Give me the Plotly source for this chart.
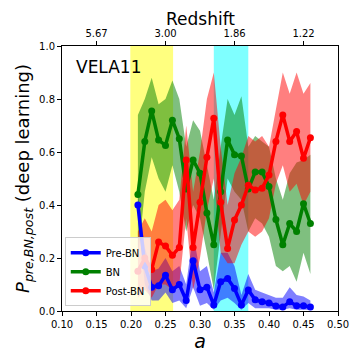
import plotly.graph_objects as go

# ---- data ----
a_vals = [0.21, 0.22, 0.23, 0.24, 0.25, 0.26, 0.27, 0.28, 0.29, 0.30, 0.31, 0.32, 0.33,
          0.34, 0.35, 0.36, 0.37, 0.38, 0.39, 0.40, 0.41, 0.42, 0.43, 0.44, 0.45, 0.46]

pre_bn = [0.40, 0.17, 0.09, 0.095, 0.135, 0.08, 0.10, 0.04, 0.19, 0.08, 0.09, 0.023, 0.11,
          0.123, 0.085, 0.023, 0.079, 0.042, 0.035, 0.030, 0.019, 0.015, 0.035, 0.02, 0.02, 0.015]
pre_bn_lo = [0.36, 0.10, 0.04, 0.04, 0.07, 0.03, 0.04, 0.01, 0.09, 0.02, 0.03, 0.005, 0.04,
             0.05, 0.03, 0.005, 0.03, 0.01, 0.01, 0.01, 0.005, 0.005, 0.01, 0.005, 0.005, 0.005]
pre_bn_hi = [0.44, 0.24, 0.15, 0.16, 0.20, 0.15, 0.17, 0.10, 0.29, 0.15, 0.17, 0.07, 0.22,
             0.22, 0.17, 0.06, 0.14, 0.08, 0.07, 0.06, 0.05, 0.05, 0.09, 0.06, 0.055, 0.04]

bn = [0.44, 0.64, 0.755, 0.645, 0.625, 0.72, 0.65, 0.46, 0.57, 0.52, 0.37, 0.25, 0.45,
      0.645, 0.59, 0.585, 0.46, 0.525, 0.525, 0.47, 0.345, 0.25, 0.33, 0.30, 0.405, 0.33]
bn_lo = [0.20, 0.45, 0.58, 0.50, 0.45, 0.55, 0.45, 0.30, 0.40, 0.35, 0.22, 0.08, 0.28,
         0.50, 0.45, 0.42, 0.30, 0.35, 0.33, 0.28, 0.17, 0.15, 0.17, 0.11, 0.22, 0.14]
bn_hi = [0.74, 0.80, 0.88, 0.78, 0.80, 0.87, 0.80, 0.62, 0.72, 0.68, 0.55, 0.42, 0.62,
         0.80, 0.74, 0.81, 0.62, 0.66, 0.64, 0.62, 0.50, 0.42, 0.52, 0.56, 0.57, 0.59]

post_bn = [0.15, 0.20, 0.157, 0.26, 0.245, 0.21, 0.24, 0.57, 0.24, 0.41, 0.58, 0.727, 0.41,
           0.236, 0.343, 0.40, 0.475, 0.457, 0.463, 0.513, 0.64, 0.74, 0.64, 0.677, 0.576, 0.654]
post_bn_lo = [0.05, 0.08, 0.05, 0.10, 0.10, 0.08, 0.10, 0.35, 0.08, 0.20, 0.38, 0.50, 0.22,
              0.18, 0.18, 0.25, 0.30, 0.28, 0.30, 0.35, 0.48, 0.55, 0.45, 0.48, 0.40, 0.45]
post_bn_hi = [0.30, 0.35, 0.30, 0.40, 0.42, 0.38, 0.42, 0.70, 0.45, 0.60, 0.80, 0.90, 0.62,
              0.40, 0.52, 0.58, 0.66, 0.64, 0.66, 0.62, 0.76, 0.90, 0.82, 0.90, 0.82, 0.86]

yellow_span = [0.199, 0.261]
cyan_span = [0.320, 0.370]

x_ticks = [0.10, 0.15, 0.20, 0.25, 0.30, 0.35, 0.40, 0.45, 0.50]
y_ticks = [0.0, 0.2, 0.4, 0.6, 0.8, 1.0]
z_tick_a = [0.15, 0.25, 0.35, 0.45]
z_tick_labels = ["5.67", "3.00", "1.86", "1.22"]

series = [
    ("Pre-BN", pre_bn, pre_bn_lo, pre_bn_hi, "blue", "rgba(0,0,255,0.5)"),
    ("BN", bn, bn_lo, bn_hi, "green", "rgba(0,128,0,0.5)"),
    ("Post-BN", post_bn, post_bn_lo, post_bn_hi, "red", "rgba(255,0,0,0.5)"),
]

fig = go.Figure()

for name, y, lo, hi, col, fcol in series:
    fig.add_trace(go.Scatter(
        x=a_vals + a_vals[::-1], y=hi + lo[::-1], fill="toself",
        fillcolor=fcol, line=dict(width=0), mode="lines",
        showlegend=False, hoverinfo="skip"))

for name, y, lo, hi, col, fcol in series:
    fig.add_trace(go.Scatter(
        x=a_vals, y=y, mode="lines+markers", name=name,
        line=dict(color=col, width=3.5), marker=dict(color=col, size=7)))

# invisible trace to activate top axis
fig.add_trace(go.Scatter(x=[0.1, 0.5], y=[0, 0], xaxis="x2", mode="markers",
                         marker=dict(opacity=0), showlegend=False, hoverinfo="skip"))

fig.add_shape(type="rect", xref="x", yref="y", x0=yellow_span[0], x1=yellow_span[1],
              y0=0, y1=1, fillcolor="rgba(255,255,0,0.5)", line=dict(width=0), layer="below")
fig.add_shape(type="rect", xref="x", yref="y", x0=cyan_span[0], x1=cyan_span[1],
              y0=0, y1=1, fillcolor="rgba(0,255,255,0.5)", line=dict(width=0), layer="below")

font_family = "DejaVu Sans"
fig.update_layout(
    width=360, height=360,
    margin=dict(l=62, r=22, t=46, b=49, autoexpand=False),
    paper_bgcolor="white", plot_bgcolor="white",
    font=dict(family=font_family, color="black", size=10),
    showlegend=True,
    legend=dict(x=0.01, y=0.018, xanchor="left", yanchor="bottom",
                bgcolor="rgba(255,255,255,0.8)", bordercolor="#cccccc", borderwidth=1,
                font=dict(size=10), tracegroupgap=0, itemwidth=30),
    xaxis=dict(range=[0.1, 0.5], tickvals=x_ticks, ticktext=[f"{v:.2f}" for v in x_ticks],
               ticks="outside", ticklen=4, tickcolor="black", showgrid=False, zeroline=False,
               showline=True, linecolor="black", linewidth=1, mirror=True, automargin=False,
               title=dict(text="<i>a</i>", font=dict(size=19), standoff=2)),
    xaxis2=dict(range=[0.1, 0.5], overlaying="x", side="top", tickvals=z_tick_a,
                ticktext=z_tick_labels, ticks="outside", ticklen=4, tickcolor="black",
                showgrid=False, zeroline=False, showline=False, automargin=False),
    yaxis=dict(range=[0, 1], tickvals=y_ticks, ticktext=[f"{v:.1f}" for v in y_ticks],
               ticks="outside", ticklen=4, tickcolor="black", showgrid=False, zeroline=False,
               showline=True, linecolor="black", linewidth=1, mirror=True, automargin=False,
               title=dict(text="<i>P</i><sub><i>pre,BN,post</i></sub> (deep learning)",
                          font=dict(size=18), standoff=4)),
    annotations=[
        dict(text="VELA11", x=0.045, y=0.965, xref="paper", yref="paper",
             xanchor="left", yanchor="top", showarrow=False, font=dict(size=17)),
        dict(text="Redshift", x=0.5, y=1.102, xref="paper", yref="paper",
             xanchor="center", yanchor="middle", showarrow=False, font=dict(size=17)),
    ],
)

fig.write_html("out.html", config={"displayModeBar": False},
               post_script="document.body.style.margin='0px';document.body.style.padding='0px';")
